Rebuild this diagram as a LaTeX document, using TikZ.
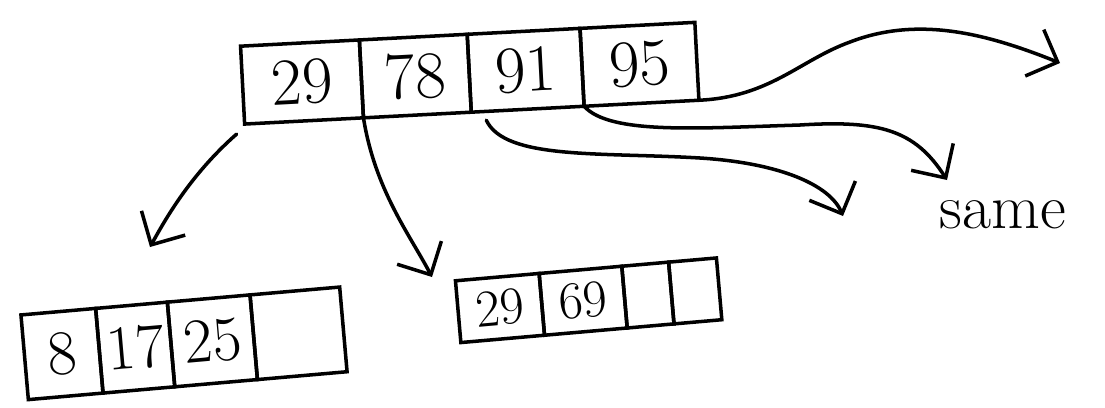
\documentclass[tikz,border=0pt]{standalone}
\usepackage{fontspec}
\usetikzlibrary{positioning,arrows.meta}

\begin{document}
\begin{tikzpicture}[x=0.02cm,y=-0.02cm]
		\tikzset{cell/.style={draw,line width=2pt,inner sep=0pt,outer sep=0pt},
			rootcell/.style={cell,minimum height=1.56cm,rotate=3,font=\fontsize{38}{40}\selectfont},
			leftcell/.style={cell,minimum height=1.7cm,rotate=5,font=\fontsize{36}{40}\selectfont},
			midcell/.style={cell,minimum height=1.24cm,rotate=5,font=\fontsize{30}{34}\selectfont},
			ptr/.style={line width=2pt,line cap=round,-{Straight Barb[length=5mm,width=10mm]}}};
		\useasboundingbox (0,0) rectangle (1105,407);
		
		\node[rootcell,minimum width=2.38cm] (r1) at (302,82) {29};
		\node[rootcell,minimum width=2.16cm,right=0pt of r1] (r2) {78};
		\node[rootcell,minimum width=2.26cm,right=0pt of r2] (r3) {91};
		\node[rootcell,minimum width=2.3cm,right=0pt of r3] (r4) {95};
		
		\node[leftcell,minimum width=1.5cm] (l1) at (62,354) {8};
		\node[leftcell,minimum width=1.44cm,right=0pt of l1] (l2) {17};
		\node[leftcell,minimum width=1.66cm,right=0pt of l2] (l3) {25};
		\node[leftcell,minimum width=1.8cm,right=0pt of l3] (l4) {};
		
		\node[midcell,minimum width=1.68cm] (m1) at (500,308) {29};
		\node[midcell,minimum width=1.66cm,right=0pt of m1] (m2) {69};
		\node[midcell,minimum width=0.94cm,right=0pt of m2] (m3) {};
		\node[midcell,minimum width=0.96cm,right=0pt of m3] (m4) {};
		
		\coordinate (t1) at (150,247);
		\coordinate (t2) at (432,277);
		\coordinate (t3) at (843,216);
		\coordinate (t4) at (947,180);
		\coordinate (t5) at (1060,63);
		
		\draw[ptr] ([shift={(-8,10)}]r1.south west) .. controls (190,175) and (165,220) .. (t1);
		\draw[ptr] (r2.south west) .. controls (375,190) and (410,235) .. (t2);
		\draw[ptr] ([shift={(15,8)}]r3.south west) .. controls (505,160) and (600,152) .. (700,158) .. controls (780,163) and (830,185) .. (t3);
		\draw[ptr] (r4.south west) .. controls (610,135) and (700,128) .. (800,125) .. controls (880,120) and (915,130) .. (t4);
		\draw[ptr] (r4.south east) .. controls (770,97) and (800,60) .. (850,42) .. controls (920,15) and (990,35) .. (t5);
		
		\node[font=\fontsize{36}{38}\selectfont] (same) at (1003,215) {same};
		
	\end{tikzpicture}
\end{document}
